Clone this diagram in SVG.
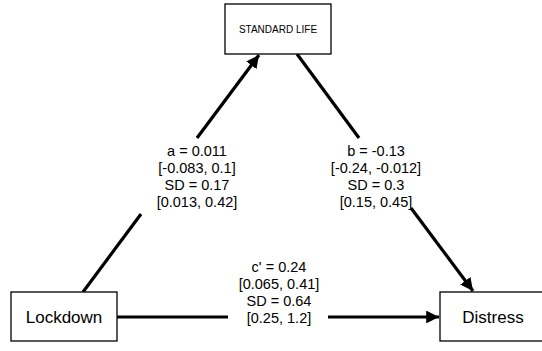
<svg xmlns="http://www.w3.org/2000/svg" width="542" height="351" viewBox="0 0 542 351">
<style>
.box{fill:#fff;stroke:#000;stroke-width:1.3}
.edge{stroke:#000;stroke-width:3.2;fill:none}
.lbl{font-family:"Liberation Sans",Arial,sans-serif;font-size:14.5px;fill:#000;text-anchor:middle}
.nt{font-family:"Liberation Sans",Arial,sans-serif;font-size:17px;fill:#000;text-anchor:middle}
.st{font-family:"Liberation Sans",Arial,sans-serif;font-size:10px;fill:#000;text-anchor:middle}
</style>
<defs>
<marker id="ah" viewBox="0 0 10 10" refX="10" refY="5" markerWidth="4" markerHeight="4" orient="auto" markerUnits="strokeWidth">
<path d="M0,0 L10,5 L0,10 z" fill="#000"/>
</marker>
</defs>
<rect width="542" height="351" fill="#fff"/>
<g id="connectors">
<line class="edge" x1="83" y1="292" x2="141" y2="214"/>
<line class="edge" x1="197" y1="138" x2="259" y2="55" marker-end="url(#ah)"/>
<line class="edge" x1="297" y1="54" x2="359" y2="138"/>
<line class="edge" x1="411" y1="208" x2="473" y2="291" marker-end="url(#ah)"/>
<line class="edge" x1="117" y1="317" x2="228" y2="317"/>
<line class="edge" x1="328" y1="317" x2="439" y2="317" marker-end="url(#ah)"/>
<text class="lbl" x="197" y="155.5">a = 0.011</text>
<text class="lbl" x="197" y="172.5">[-0.083, 0.1]</text>
<text class="lbl" x="197" y="189.5">SD = 0.17</text>
<text class="lbl" x="197" y="206.5">[0.013, 0.42]</text>
<text class="lbl" x="376" y="155.5">b = -0.13</text>
<text class="lbl" x="376" y="172.5">[-0.24, -0.012]</text>
<text class="lbl" x="376" y="189.5">SD = 0.3</text>
<text class="lbl" x="376" y="206.5">[0.15, 0.45]</text>
<text class="lbl" x="279" y="271.5">c' = 0.24</text>
<text class="lbl" x="279" y="288.5">[0.065, 0.41]</text>
<text class="lbl" x="279" y="305.5">SD = 0.64</text>
<text class="lbl" x="279" y="322.5">[0.25, 1.2]</text>
</g>
<g id="standard-life">
<rect class="box" x="225" y="4" width="106" height="50"/>
<text class="st" x="278" y="33">STANDARD LIFE</text>
</g>
<g id="lockdown">
<rect class="box" x="11" y="292" width="106" height="49"/>
<text class="nt" x="64" y="322.5">Lockdown</text>
</g>
<g id="distress">
<rect class="box" x="440" y="292" width="106" height="49"/>
<text class="nt" x="493" y="322.5">Distress</text>
</g>
</svg>
